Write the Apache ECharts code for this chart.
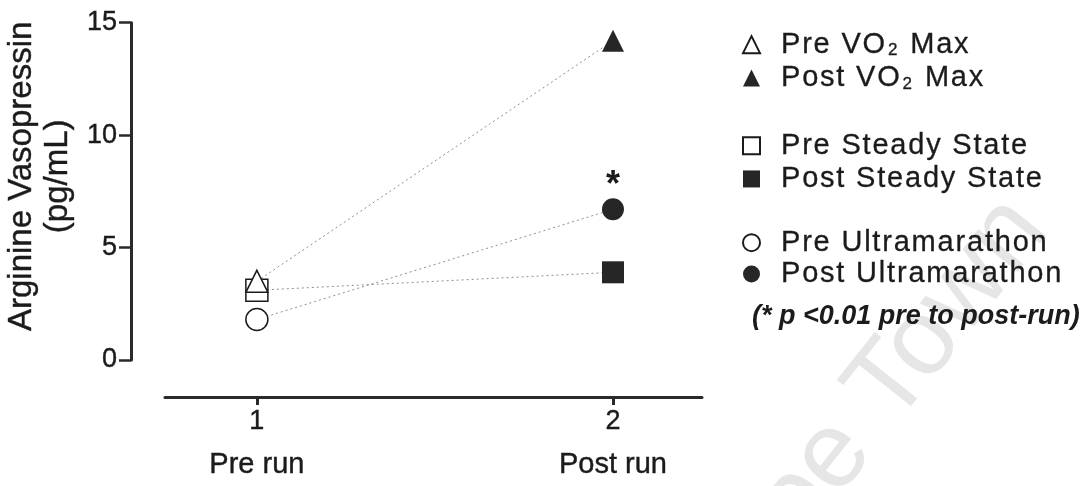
<!DOCTYPE html>
<html>
<head>
<meta charset="utf-8">
<title>Arginine Vasopressin pre and post run</title>
<script src="https://cdn.jsdelivr.net/npm/echarts@6/dist/echarts.min.js"></script>
<style>
  html, body { margin: 0; padding: 0; background: #ffffff; }
  #chart { width: 1089px; height: 486px; }
</style>
</head>
<body>
<div id="chart"></div>
<script>
// Time points on the x axis
const timePoints = [1, 2];
const timeTickLabels = ['1', '2'];
const timeNames = ['Pre run', 'Post run'];

// Arginine vasopressin (pg/mL), [pre run, post run]
const vo2Max = [3.5, 14.2];
const steadyState = [3.1, 3.9];
const ultramarathon = [1.8, 6.7];

// Y axis range and step
const yMin = 0;
const yMax = 15;
const yStep = 5;

const FONT = "'Liberation Sans', Arial, Helvetica, sans-serif";
const INK = '#1b1b1b';
const MARK = '#262626';
const AXIS = '#2a2a2a';

const groups = [
  { label: 'VO2 Max', values: vo2Max, symbol: 'triangle', size: 22, preZ: 5 },
  { label: 'Steady State', values: steadyState, symbol: 'rect', size: 22, preZ: 4 },
  { label: 'Ultramarathon', values: ultramarathon, symbol: 'circle', size: 22, preZ: 4 }
];

const series = [];
// dotted connectors between pre and post means
groups.forEach(g => {
  series.push({
    type: 'line',
    name: g.label + ' trend',
    data: timePoints.map((t, i) => [t, g.values[i]]),
    symbol: 'none',
    silent: true,
    z: 1,
    lineStyle: { color: '#8f8f8f', width: 1, type: [2, 3] }
  });
});
// open markers for pre run, filled markers for post run
groups.forEach(g => {
  series.push({
    type: 'scatter',
    name: 'Pre ' + g.label,
    data: [[timePoints[0], g.values[0]]],
    symbol: g.symbol,
    symbolSize: g.size,
    z: g.preZ,
    itemStyle: { color: '#ffffff', borderColor: INK, borderWidth: 1.5, opacity: 1 }
  });
  const post = {
    type: 'scatter',
    name: 'Post ' + g.label,
    data: [[timePoints[1], g.values[1]]],
    symbol: g.symbol,
    symbolSize: g.size,
    z: 3,
    itemStyle: { color: MARK, opacity: 1 }
  };
  if (g.label === 'Ultramarathon') {
    // significance marker above the post-run mean
    post.label = {
      show: true, position: 'top', distance: -6, formatter: '*',
      fontFamily: FONT, fontSize: 36, fontWeight: 'bold', color: INK
    };
  }
  series.push(post);
});

// legend labels are set with a little extra letter spacing
const legendText = {
  fontFamily: FONT, fontSize: 29, color: INK, padding: [0, 0, 0, 16],
  rich: {
    t: { fontFamily: FONT, fontSize: 29, color: INK, lineHeight: 29, padding: [0, 1.8, 0, 0], textBorderColor: INK, textBorderWidth: 0.3 },
    sub: { fontFamily: FONT, fontSize: 17, color: INK, verticalAlign: 'bottom', lineHeight: 20, padding: [0, 3, 0, 1], textBorderColor: INK, textBorderWidth: 0.3 }
  }
};
const spread = s => s.split('').map(c => '{t|' + c + '}').join('');
const legendFormatter = name => {
  if (name.indexOf('VO2') >= 0) {
    const parts = name.split('VO2');
    return spread(parts[0] + 'VO') + '{sub|2}' + spread(parts[1]);
  }
  return spread(name);
};
function makeLegend(names, top, gap) {
  return {
    data: names, orient: 'vertical', left: 742, top: top, padding: 0,
    itemWidth: 17, itemHeight: 17, itemGap: gap,
    selectedMode: false, textStyle: legendText, formatter: legendFormatter
  };
}

const option = {
  backgroundColor: '#ffffff',
  animation: false,
  grid: { left: 165, right: 387, top: 22.7, bottom: 126, containLabel: false, outerBoundsMode: 'none' },
  xAxis: {
    type: 'value', min: 0.742, max: 2.25,
    offset: 37,
    splitLine: { show: false },
    axisLine: { show: true, onZero: false, lineStyle: { color: AXIS, width: 3 } },
    axisTick: { show: true, customValues: timePoints, length: 8, lineStyle: { color: AXIS, width: 3 } },
    axisLabel: {
      show: true, customValues: timePoints, margin: 11,
      formatter: v => {
        const i = timePoints.indexOf(v);
        return '{n|' + timeTickLabels[i] + '}\n{c|' + timeNames[i] + '}';
      },
      rich: {
        n: { fontFamily: FONT, fontSize: 27, color: INK, lineHeight: 28, textBorderColor: INK, textBorderWidth: 0.4 },
        c: { fontFamily: FONT, fontSize: 29, color: INK, lineHeight: 58, textBorderColor: INK, textBorderWidth: 0.4 }
      }
    }
  },
  yAxis: {
    type: 'value', min: yMin, max: yMax, interval: yStep,
    offset: 34,
    splitLine: { show: false },
    axisLine: { show: true, onZero: false, lineStyle: { color: AXIS, width: 3 } },
    axisTick: { show: true, length: 12, lineStyle: { color: AXIS, width: 2.5 } },
    axisLabel: { fontFamily: FONT, fontSize: 27, color: INK, margin: 14, textBorderColor: INK, textBorderWidth: 0.4 },
    name: 'Arginine Vasopressin\n(pg/mL)',
    nameLocation: 'middle', nameRotate: 90, nameGap: 55,
    nameTextStyle: { fontFamily: FONT, fontSize: 33, color: INK, lineHeight: 36, padding: [0, 0, 0, 30], textBorderColor: INK, textBorderWidth: 0.4 }
  },
  legend: [
    makeLegend(['Pre VO2 Max', 'Post VO2 Max'], 30, 4),
    makeLegend(['Pre Steady State', 'Post Steady State'], 131, 4),
    makeLegend(['Pre Ultramarathon', 'Post Ultramarathon'], 228, 2)
  ],
  graphic: {
    elements: [
      {
        type: 'text', x: 752, y: 317, z: 10,
        style: {
          text: '(* p <0.01 pre to post-run)',
          font: 'italic bold 27px ' + FONT, fill: INK, verticalAlign: 'middle'
        }
      },
      {
        type: 'text', x: 1027, y: 212, rotation: 0.9, z: 0, silent: true,
        style: {
          text: 'University of Cape Town',
          font: '108px ' + FONT, fill: '#e6e6e6', align: 'right', verticalAlign: 'middle'
        }
      }
    ]
  },
  series: series
};

const chart = echarts.init(document.getElementById('chart'), null, { renderer: 'canvas' });
chart.setOption(option);
</script>
</body>
</html>
